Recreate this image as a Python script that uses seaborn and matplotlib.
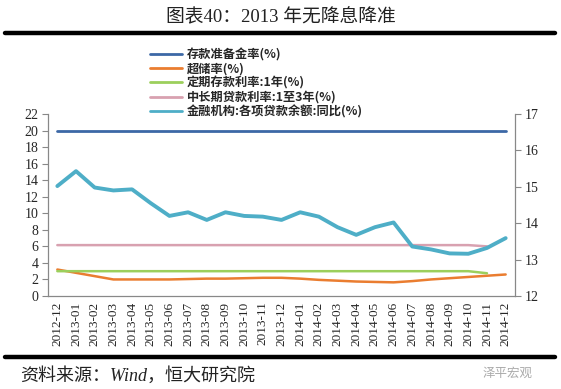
import numpy as np
import pandas as pd
import matplotlib
matplotlib.use("Agg")
import matplotlib.pyplot as plt
import seaborn as sns
from matplotlib.lines import Line2D

# months on the x axis
months = ["2012-12", "2013-01", "2013-02", "2013-03", "2013-04", "2013-05", "2013-06",
          "2013-07", "2013-08", "2013-09", "2013-10", "2013-11", "2013-12", "2014-01",
          "2014-02", "2014-03", "2014-04", "2014-05", "2014-06", "2014-07", "2014-08",
          "2014-09", "2014-10", "2014-11", "2014-12"]

# left axis series (%)
rrr = [20.0] * 25
excess_reserve = [3.2, 2.8, 2.4, 2.0, 2.0, 2.0, 2.0, 2.05, 2.1, 2.1, 2.15, 2.2, 2.2,
                  2.1, 1.95, 1.85, 1.75, 1.7, 1.65, 1.8, 2.0, 2.15, 2.3, 2.45, 2.6]
deposit_1y = [3.0] * 23 + [2.75, np.nan]
loan_1_3y = [6.15] * 23 + [6.0, np.nan]

# right axis series (%)
loan_yoy = [15.02, 15.43, 14.98, 14.90, 14.93, 14.55, 14.20, 14.30, 14.09, 14.30, 14.20,
            14.18, 14.09, 14.30, 14.18, 13.89, 13.68, 13.89, 14.02, 13.36, 13.28, 13.17,
            13.16, 13.32, 13.59]

labels = ["存款准备金率(%)", "超储率(%)", "定期存款利率:1年(%)",
          "中长期贷款利率:1至3年(%)", "金融机构:各项贷款余额:同比(%)"]
colors = ["#3c68a6", "#ea7d30", "#9ccf5c", "#d8a1b0", "#4eaec7"]

sns.set_style("white")
plt.rcParams['font.family'] = ['Liberation Serif', 'Noto Sans CJK SC']

x = np.arange(len(months))
left_df = pd.DataFrame({"x": x, "rrr": rrr, "er": excess_reserve,
                        "dep": deposit_1y, "loan": loan_1_3y})

fig = plt.figure(figsize=(5.61, 3.89), dpi=100)
ax = fig.add_axes([48 / 561, 1 - 296 / 389, 467 / 561, 182 / 389])
ax2 = ax.twinx()

sns.lineplot(data=left_df, x="x", y="rrr", ax=ax, color=colors[0], linewidth=2)
sns.lineplot(data=left_df, x="x", y="er", ax=ax, color=colors[1], linewidth=1.8)
sns.lineplot(data=left_df, x="x", y="dep", ax=ax, color=colors[2], linewidth=1.8)
sns.lineplot(data=left_df, x="x", y="loan", ax=ax, color=colors[3], linewidth=1.8)
sns.lineplot(x=x, y=loan_yoy, ax=ax2, color=colors[4], linewidth=2.8)

ax.set_ylim(0, 22)
ax.set_yticks(range(0, 23, 2))
ax2.set_ylim(12, 17)
ax2.set_yticks(range(12, 18))
ax.set_xlim(-0.5, len(months) - 0.5)
ax.set_xticks(x)
ax.set_xticklabels(months, rotation=90, fontsize=9.5)
ax.set_xticks(np.arange(-0.5, len(months)), minor=True)
ax.tick_params(axis="x", which="major", length=0, pad=4)
ax.tick_params(axis="x", which="minor", length=4, color="#888888", direction="out")
ax.tick_params(axis="y", length=4, color="#888888", direction="out", labelsize=10, pad=3)
ax2.tick_params(axis="y", length=4, color="#888888", direction="out", labelsize=10, pad=3)
ax.set_xlabel("")
ax.set_ylabel("")
ax2.set_ylabel("")

for a in (ax, ax2):
    a.spines["top"].set_visible(False)
    for s in ("left", "right", "bottom"):
        a.spines[s].set_color("#888888")
        a.spines[s].set_linewidth(0.9)
ax.spines["right"].set_visible(False)
ax2.spines["left"].set_visible(False)
ax2.spines["bottom"].set_visible(False)

handles = [Line2D([], [], color=c, linewidth=2) for c in colors]
fig.legend(handles, labels, loc="upper left", bbox_to_anchor=(150 / 561, 1 - 48 / 389),
           frameon=False, handlelength=2.6, handletextpad=0.4,
           labelspacing=0.1, borderpad=0, borderaxespad=0,
           prop={"family": ["Noto Sans CJK SC"], "weight": "bold", "size": 8.8})

# title, rules and source
fig.text(0.5, 1 - 17 / 389, "图表40：2013 年无降息降准", ha="center", va="center",
         fontsize=13.5, color="#222222")
fig.add_artist(Line2D([5 / 561, 555 / 561], [1 - 33 / 389] * 2, color="black", linewidth=3.2))
fig.add_artist(Line2D([5 / 561, 555 / 561], [1 - 357 / 389] * 2, color="black", linewidth=3.2))
fig.text(20 / 561, 1 - 376 / 389, "资料来源：Wind，恒大研究院", ha="left", va="center",
         fontsize=13, style="italic", color="#222222")
fig.text(533 / 561, 1 - 374 / 389, "泽平宏观", ha="right", va="center",
         fontsize=9, color="#aaaaaa")

fig.savefig("out.png", dpi=100)
